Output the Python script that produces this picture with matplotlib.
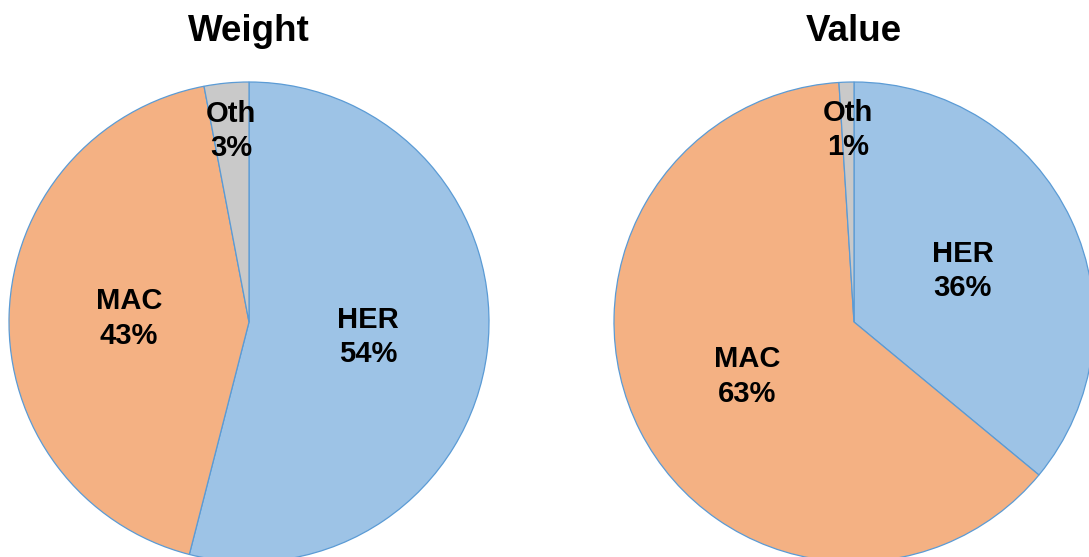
import matplotlib
matplotlib.use('Agg')
import matplotlib.pyplot as plt
import numpy as np

plt.rcParams['font.family'] = ['Liberation Sans', 'DejaVu Sans']

# Данные
labels = ['HER', 'MAC', 'Oth']
weight_pct = [54, 43, 3]
value_pct = [36, 63, 1]
titles = ['Weight', 'Value']
colors = ['#9DC3E6', '#F4B183', '#C9C9C9']
edge_color = '#5B9BD5'

W, H = 1089, 557
fig = plt.figure(figsize=(W / 100, H / 100), dpi=100)

# центры пирогов в пикселях и радиус
centers = [(249, 322), (854, 322)]
radius = 240

for (cx, cy), title, vals in zip(centers, titles, [weight_pct, value_pct]):
    left = (cx - radius) / W
    bottom = (H - cy - radius) / H
    ax = fig.add_axes([left, bottom, 2 * radius / W, 2 * radius / H])
    wedges, _ = ax.pie(vals, colors=colors, startangle=90, counterclock=False,
                       radius=1.0, wedgeprops=dict(edgecolor=edge_color, linewidth=0.9))
    for w in wedges:
        w.set_clip_on(False)
    for w, lab, v in zip(wedges, labels, vals):
        mid = np.deg2rad((w.theta1 + w.theta2) / 2)
        r = 0.8 if v < 10 else 0.5
        ax.text(r * np.cos(mid), r * np.sin(mid), f'{lab}\n{v}%',
                ha='center', va='center', fontsize=21, fontweight='bold',
                linespacing=1.3, clip_on=False)
    ax.set_xlim(-1, 1)
    ax.set_ylim(-1, 1)
    ax.set_aspect('equal')
    ax.axis('off')
    fig.text(cx / W, 1 - 41 / H, title, ha='center', va='baseline',
             fontsize=26.5, fontweight='bold')

fig.savefig('out.png', dpi=100, facecolor='white')
